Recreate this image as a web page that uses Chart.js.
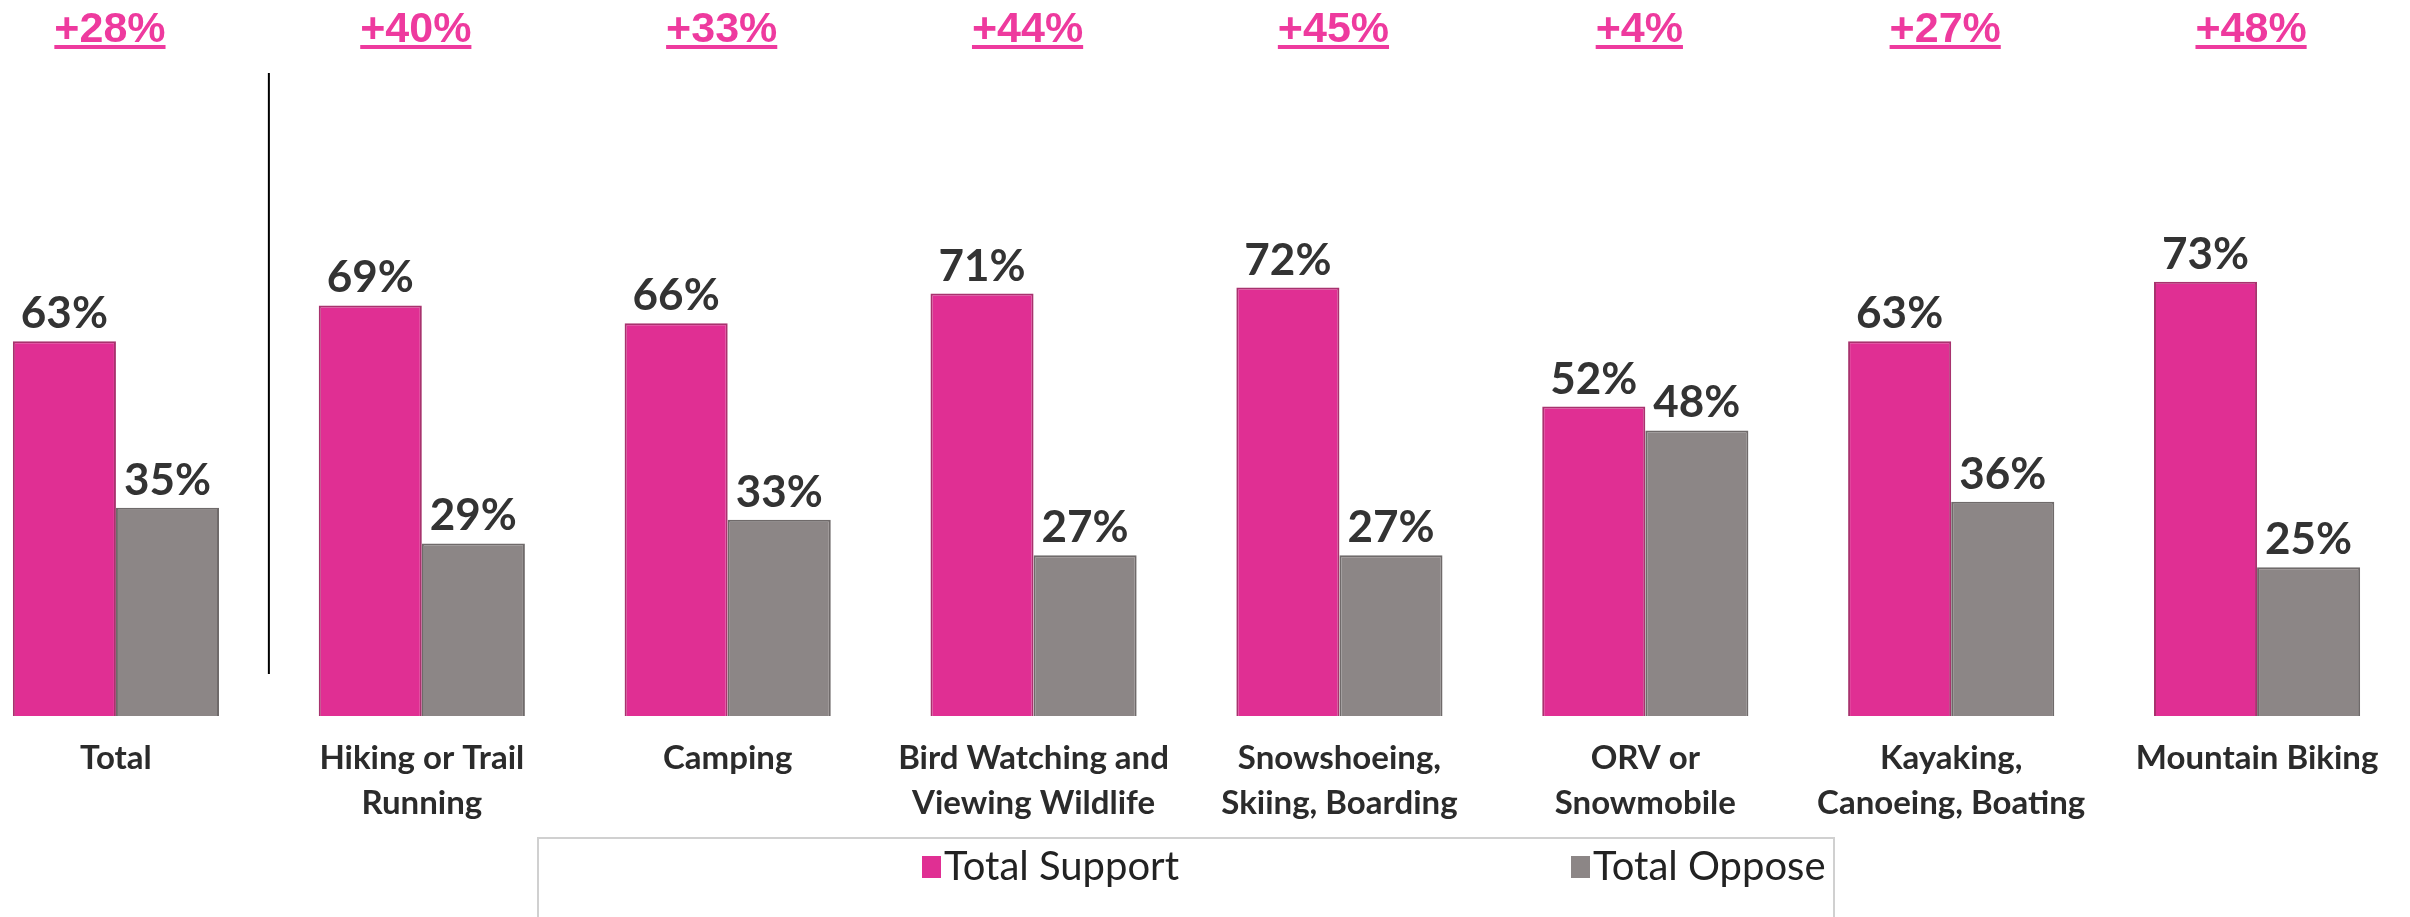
<!DOCTYPE html>
<html lang="en">
<head>
    <meta charset="UTF-8">
    <title>Support vs Oppose by Activity</title>
    <script src="https://cdn.jsdelivr.net/npm/chart.js"></script>
    <style>
        html, body { margin: 0; padding: 0; background: #fff; overflow: hidden; }
        #wrap { position: absolute; left: -37px; top: 0; width: 2447px; height: 917px; }
    </style>
</head>
<body>
    <div id="wrap"><canvas id="myChart"></canvas></div>
    <script>
        // categories and values
        const categories = [
            'Total',
            ['Hiking or Trail', 'Running'],
            'Camping',
            ['Bird Watching and', 'Viewing Wildlife'],
            ['Snowshoeing,', 'Skiing, Boarding'],
            ['ORV or', 'Snowmobile'],
            ['Kayaking,', 'Canoeing, Boating'],
            'Mountain Biking'
        ];
        const support = [63, 69, 66, 71, 72, 52, 63, 73];
        const oppose = [35, 29, 33, 27, 27, 48, 36, 25];
        const netLabels = ['+28%', '+40%', '+33%', '+44%', '+45%', '+4%', '+27%', '+48%'];

        const PINK = '#E02F93';
        const GREY = '#8C8686';

        // draws value labels, the net labels on top, the divider and the legend box
        const extras = {
            id: 'extras',
            afterDatasetsDraw(chart) {
                const c = chart.ctx;
                const xs = chart.scales.x;
                c.save();

                // value labels above the bars
                c.font = 'bold 44px Lato';
                c.fillStyle = '#333333';
                c.textAlign = 'center';
                c.textBaseline = 'alphabetic';
                chart.data.datasets.forEach((ds, di) => {
                    chart.getDatasetMeta(di).data.forEach((bar, i) => {
                        c.fillText(ds.data[i] + '%', bar.x, bar.y - 13);
                    });
                });

                // net difference, pink and underlined
                c.font = 'bold 43px "Liberation Sans"';
                c.fillStyle = '#EE3A9E';
                netLabels.forEach((t, i) => {
                    const cx = xs.getPixelForValue(i) - 6;
                    c.fillText(t, cx, 42);
                    const w = c.measureText(t).width;
                    c.fillRect(cx - w / 2, 45, w, 4);
                });

                // divider between Total and the activities
                const mid = (xs.getPixelForValue(0) + xs.getPixelForValue(1)) / 2;
                c.strokeStyle = '#000';
                c.lineWidth = 2;
                c.beginPath();
                c.moveTo(mid, 73);
                c.lineTo(mid, 674);
                c.stroke();

                // legend box
                const bx = 575, by = 838, bw = 1296, bh = 90;
                c.strokeStyle = '#D0D0D0';
                c.lineWidth = 2;
                c.strokeRect(bx, by, bw, bh);
                c.font = '40px Lato';
                c.textAlign = 'left';
                const items = [[959, 0], [1608, 1]];
                items.forEach(([lx, di]) => {
                    const ds = chart.data.datasets[di];
                    c.fillStyle = ds.backgroundColor;
                    c.fillRect(lx, 856, 19, 22);
                    c.fillStyle = '#222222';
                    c.fillText(ds.label, lx + 22, 880);
                });

                c.restore();
            }
        };

        const ctx = document.getElementById('myChart').getContext('2d');

        new Chart(ctx, {
            type: 'bar',
            data: {
                labels: categories,
                datasets: [
                    {
                        label: 'Total Support',
                        data: support,
                        backgroundColor: PINK,
                        borderColor: '#A8326E',
                        borderWidth: 2,
                        barPercentage: 1,
                        categoryPercentage: 0.674
                    },
                    {
                        label: 'Total Oppose',
                        data: oppose,
                        backgroundColor: GREY,
                        borderColor: '#6F6A6A',
                        borderWidth: 2,
                        barPercentage: 1,
                        categoryPercentage: 0.674
                    }
                ]
            },
            options: {
                responsive: true,
                maintainAspectRatio: false,
                animation: false,
                layout: { padding: { top: 121, left: 0, right: 0, bottom: 0 } },
                plugins: {
                    legend: { display: false },
                    tooltip: { enabled: false }
                },
                scales: {
                    x: {
                        grid: { display: false, drawTicks: false },
                        border: { display: false },
                        afterFit(scale) { scale.height = 201; },
                        ticks: {
                            padding: 20,
                            color: '#2b2b2b',
                            font: { family: 'Lato', size: 33, weight: 'bold', lineHeight: 1.36 },
                            maxRotation: 0,
                            autoSkip: false
                        }
                    },
                    y: {
                        display: false,
                        min: 0,
                        max: 100
                    }
                }
            },
            plugins: [extras]
        });
    </script>
</body>
</html>
